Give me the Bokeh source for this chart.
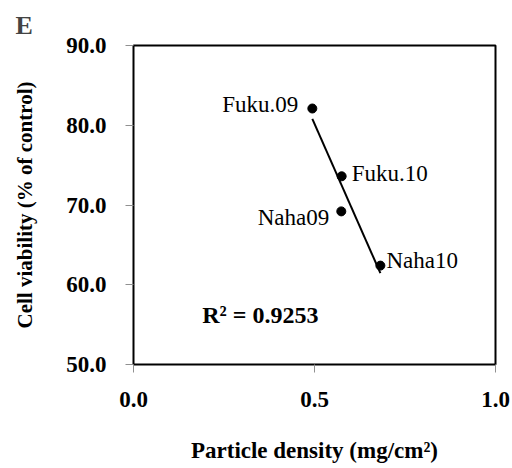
import numpy as np
from bokeh.plotting import figure
from bokeh.models import ColumnDataSource, FixedTicker, PrintfTickFormatter, Range1d
from bokeh.core.properties import value
from bokeh.embed import file_html
from bokeh.resources import INLINE

# data
names = ["Fuku.09", "Fuku.10", "Naha09", "Naha10"]
density = [0.494, 0.575, 0.574, 0.682]
viability = [82.1, 73.6, 69.2, 62.4]
x_ticks = [0.0, 0.5, 1.0]
y_ticks = [50, 60, 70, 80, 90]
r2_text = "R² = 0.9253"

# label placement (screen offsets, px)
label_dx = [-14, 10, -12, 6]
label_dy = [-4, -3, 6, -5]
label_align = ["right", "left", "right", "left"]

FONT = "'Liberation Serif', 'Times New Roman', serif"

p = figure(width=512, height=468, output_backend="svg", toolbar_location=None,
           x_range=Range1d(0, 1), y_range=Range1d(50, 90),
           min_border_left=133, min_border_right=17,
           min_border_top=45, min_border_bottom=104,
           title="E")

p.title.text_font = FONT
p.title.text_font_size = "26px"
p.title.text_font_style = "bold"
p.title.offset = -118
p.title.standoff = 11

p.outline_line_color = "black"
p.outline_line_width = 2
p.xgrid.grid_line_color = None
p.ygrid.grid_line_color = None
p.background_fill_color = "white"
p.border_fill_color = "white"

for ax in (p.xaxis[0], p.yaxis[0]):
    ax.axis_line_color = None
    ax.major_tick_line_color = "#909090"
    ax.major_tick_line_width = 1
    ax.major_tick_out = 8
    ax.major_tick_in = 0
    ax.minor_tick_line_color = None
    ax.major_label_text_font = FONT
    ax.major_label_text_font_style = "bold"
    ax.major_label_text_font_size = "23px"
    ax.major_label_text_color = "black"
    ax.axis_label_text_font = FONT
    ax.axis_label_text_font_style = "bold"
    ax.axis_label_text_color = "black"

p.xaxis.axis_label_text_font_size = "23px"
p.yaxis.axis_label_text_font_size = "21px"
p.xaxis.ticker = FixedTicker(ticks=x_ticks)
p.yaxis.ticker = FixedTicker(ticks=y_ticks)
p.xaxis.formatter = PrintfTickFormatter(format="%.1f")
p.yaxis.formatter = PrintfTickFormatter(format="%.1f")
p.xaxis.major_label_standoff = 19
p.yaxis.major_label_standoff = 19
p.xaxis.axis_label = "Particle density (mg/cm²)"
p.yaxis.axis_label = "Cell viability (% of control)"
p.xaxis.axis_label_standoff = 28
p.yaxis.axis_label_standoff = 26

# regression trend line
slope, intercept = np.polyfit(density, viability, 1)
xs = [min(density), max(density)]
ys = [slope * x + intercept for x in xs]
p.line(xs, ys, line_color="black", line_width=2)

src = ColumnDataSource(dict(x=density, y=viability, name=names,
                            dx=label_dx, dy=label_dy, align=label_align))
p.scatter("x", "y", source=src, size=9, color="black")
p.text("x", "y", text="name", source=src, x_offset="dx", y_offset="dy",
       text_align="align", text_baseline="middle",
       text_font=value(FONT), text_font_size="23px", text_color="black")

p.text(x=[0.19], y=[56.2], text=[r2_text], text_align="left", text_baseline="middle",
       text_font=value(FONT), text_font_size="24px", text_font_style="bold",
       text_color="black")

open("out.html", "w").write(file_html(p, INLINE))
